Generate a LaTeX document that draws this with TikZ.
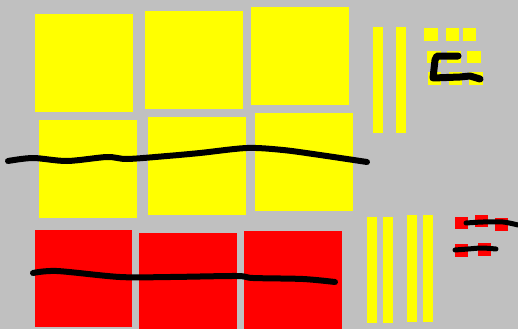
\documentclass[tikz,border=0pt]{standalone}
\definecolor{bggray}{HTML}{C0C0C0}
\definecolor{padyellow}{HTML}{FFFF00}
\definecolor{padred}{HTML}{FF0000}
\tikzset{stroke/.style={line width=6pt, line cap=round, line join=round}}
\begin{document}
\begin{tikzpicture}[x=1pt, y=-1pt]
    % pixel grid of the sketch, y axis pointing down
    \fill[bggray] (0,0) rectangle (518,329);
    \useasboundingbox (0,0) rectangle (518,329);
    \fill[padyellow] (35,14) rectangle (133,112);
    \fill[padyellow] (145,11) rectangle (243,109);
    \fill[padyellow] (251,7) rectangle (349,105);
    \fill[padyellow] (39,120) rectangle (137,218);
    \fill[padyellow] (148,117) rectangle (246,215);
    \fill[padyellow] (255,113) rectangle (353,211);
    \fill[padred] (35,230) rectangle (132,327);
    \fill[padred] (139,233) rectangle (237,329);
    \fill[padred] (244,231) rectangle (342,329);
    \fill[padyellow] (373,27) rectangle (383,133);
    \fill[padyellow] (396,27) rectangle (406,133);
    \fill[padyellow] (367,217) rectangle (377,323);
    \fill[padyellow] (383,217) rectangle (393,323);
    \fill[padyellow] (407,215) rectangle (417,322);
    \fill[padyellow] (423,215) rectangle (433,322);
    \fill[padyellow] (424,28) rectangle (438,41);
    \fill[padyellow] (446,28) rectangle (459,41);
    \fill[padyellow] (463,28) rectangle (476,41);
    \fill[padyellow] (427,51) rectangle (441,63);
    \fill[padyellow] (447,51) rectangle (461,63);
    \fill[padyellow] (467,51) rectangle (481,63);
    \fill[padyellow] (428,72) rectangle (441,85);
    \fill[padyellow] (449,72) rectangle (462,85);
    \fill[padyellow] (469,72) rectangle (483,85);
    \fill[padred] (455,217) rectangle (468,229);
    \fill[padred] (475,215) rectangle (488,227);
    \fill[padred] (495,218) rectangle (508,231);
    \fill[padred] (455,244) rectangle (468,257);
    \fill[padred] (478,243) rectangle (491,256);
    % strokes
    \draw[stroke] plot[smooth, tension=0.5] coordinates {(8,161) (33,158) (67,161) (107,157) (127,159) (167,156) (200,153) (247,148) (283,150) (320,155) (367,162)};
    \draw[stroke] plot[smooth, tension=0.5] coordinates {(33,273) (57,271) (120,277) (170,277) (237,276) (253,278) (303,279) (335,282)};
    \draw[stroke, line width=7pt] (458,56) -- (437,56) -- (435,60) -- (433,78) -- (460,77) -- (470,76) -- (480,79);
    \draw[stroke, line width=5pt] plot[smooth, tension=0.5] coordinates {(466,223) (483,222) (503,222) (518,225)};
    \draw[stroke, line width=5pt] plot[smooth, tension=0.5] coordinates {(455,250) (468,249) (482,248) (496,249)};
\end{tikzpicture}
\end{document}
